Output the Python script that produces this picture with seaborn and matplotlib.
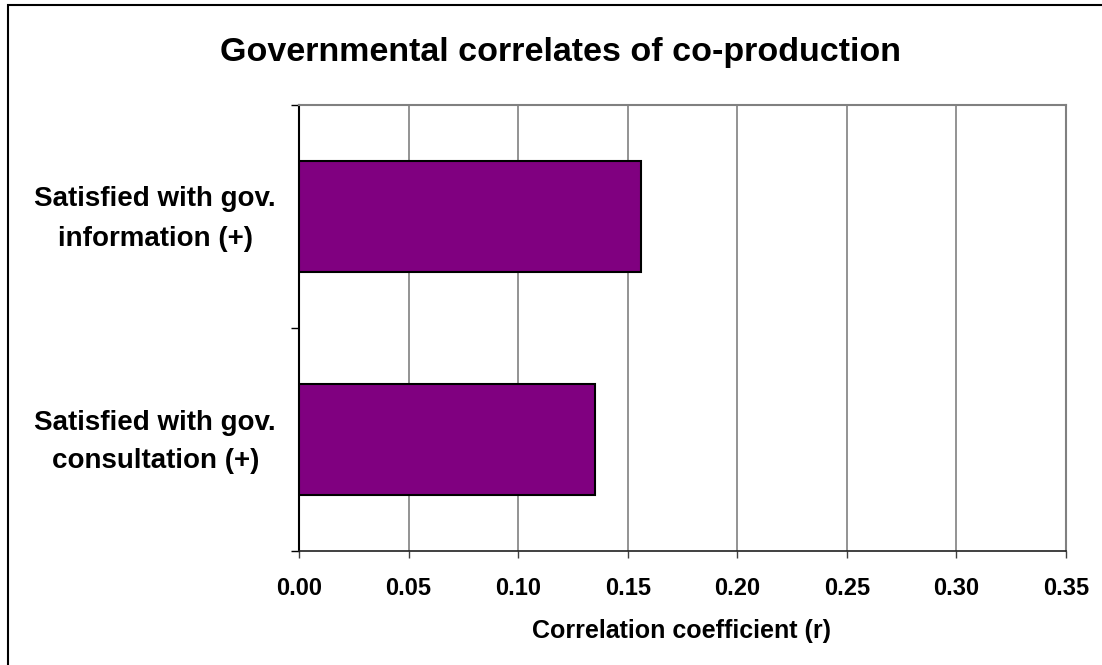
import matplotlib
matplotlib.use("Agg")
import matplotlib.pyplot as plt
import matplotlib.transforms as mtransforms
import seaborn as sns
import pandas as pd
from matplotlib.patches import Rectangle

categories = ["Satisfied with gov.\ninformation (+)", "Satisfied with gov.\nconsultation (+)"]
values = [0.156, 0.135]
x_ticks = [0.00, 0.05, 0.10, 0.15, 0.20, 0.25, 0.30, 0.35]
x_tick_labels = ["0.00", "0.05", "0.10", "0.15", "0.20", "0.25", "0.30", "0.35"]
title = "Governmental correlates of co-production"
x_label = "Correlation coefficient (r)"

sns.set_theme(style="white")
plt.rcParams['font.family'] = ['Liberation Sans', 'DejaVu Sans']
plt.rcParams['font.weight'] = 'bold'
plt.rcParams['text.color'] = 'black'
plt.rcParams['xtick.color'] = 'black'
plt.rcParams['ytick.color'] = 'black'

df = pd.DataFrame({"category": categories, "value": values})

fig = plt.figure(figsize=(11.02, 6.65), dpi=100)
fig.patch.set_facecolor("white")
ax = fig.add_axes([299/1102, 1-551/665, (1066-299)/1102, (551-105)/665])

sns.barplot(data=df, x="value", y="category", orient="h", color="#800080",
            width=0.5, edgecolor="black", linewidth=1.5, saturation=1, ax=ax, zorder=3)

ax.set_xlim(0, 0.35)
ax.set_ylim(1.5, -0.5)
ax.set_xticks(x_ticks)
ax.set_xticklabels(x_tick_labels, fontsize=17, fontweight='bold', color='black')
ax.set_yticks([0, 1])
ax.set_yticklabels(categories, fontsize=20, fontweight='bold', linespacing=1.65,
                   multialignment='center', color='black')
ax.set_yticks([-0.5, 0.5, 1.5], minor=True)
ax.tick_params(axis='y', which='major', length=0, pad=16.5)
ax.tick_params(axis='y', which='minor', length=6, width=1, color='black', direction='out', left=True)
ax.tick_params(axis='x', which='major', length=5, width=1, color='#404040', direction='out',
               bottom=True, pad=14)
ax.set_xlabel("")
ax.set_ylabel("")

shift = mtransforms.ScaledTranslation(0, 7/100, fig.dpi_scale_trans)
for lbl in ax.get_yticklabels():
    lbl.set_transform(lbl.get_transform() + shift)

ax.grid(axis='x', color='#808080', linewidth=1.2, zorder=0)
ax.set_axisbelow(True)
ax.spines['left'].set_color('black')
ax.spines['left'].set_linewidth(1.5)
ax.spines['bottom'].set_color('#202020')
ax.spines['bottom'].set_linewidth(1.2)
ax.spines['top'].set_color('#808080')
ax.spines['top'].set_linewidth(1.5)
ax.spines['right'].set_color('#808080')
ax.spines['right'].set_linewidth(1.5)
for s in ax.spines.values():
    s.set_visible(True)

fig.text(560/1102, 1-53/665, title, ha='center', va='center', fontsize=24.5, fontweight='bold',
         color='black')
fig.text(682/1102, 1-631/665, x_label, ha='center', va='center', fontsize=18, fontweight='bold',
         color='black')

fig.patches.append(Rectangle((8/1102, -0.05), 1.2, 1-5/665+0.05, transform=fig.transFigure,
                             fill=False, edgecolor='black', linewidth=1.5))

fig.savefig("out.png", dpi=100, facecolor="white")
